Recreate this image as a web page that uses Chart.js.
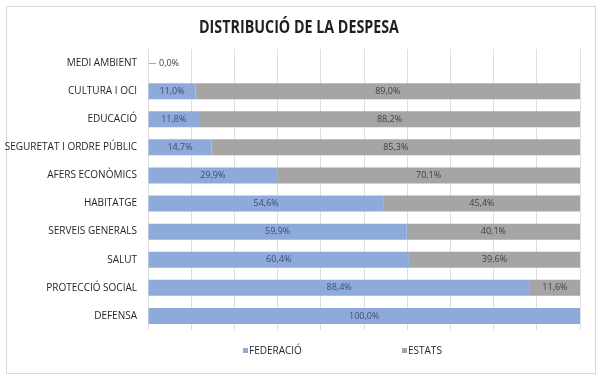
<!DOCTYPE html>
<html><head><meta charset="utf-8">
<script src="https://cdn.jsdelivr.net/npm/chart.js@4.4.0/dist/chart.umd.min.js"></script>
<style>html,body{margin:0;padding:0;background:#fff}#wrap{width:600px;height:383px;position:relative}canvas{display:block}</style>
</head><body><div id="wrap"><canvas id="c" width="600" height="383"></canvas></div>
<script>
const categories = ['MEDI AMBIENT','CULTURA I OCI','EDUCACIÓ','SEGURETAT I ORDRE PÚBLIC','AFERS ECONÒMICS','HABITATGE','SERVEIS GENERALS','SALUT','PROTECCIÓ SOCIAL','DEFENSA'];
const federacio = [0.0, 11.0, 11.8, 14.7, 29.9, 54.6, 59.9, 60.4, 88.4, 100.0];
const estats = [null, 89.0, 88.2, 85.3, 70.1, 45.4, 40.1, 39.6, 11.6, null];
const seriesNames = ['FEDERACIÓ', 'ESTATS'];
const chartTitle = 'DISTRIBUCIÓ DE LA DESPESA';

const FONT = '"Open Sans", "DejaVu Sans", sans-serif';
const colors = ['#8eaadb', '#a5a5a5'];
const labelColors = ['#3f4d6b', '#404040'];

function fmt(v) { return v.toFixed(1).replace('.', ',') + '%'; }

const framePlugin = {
  id: 'frame',
  beforeDraw(chart) {
    const ctx = chart.ctx;
    ctx.save();
    ctx.fillStyle = '#fff';
    ctx.fillRect(0, 0, chart.width, chart.height);
    ctx.strokeStyle = '#d9d9d9';
    ctx.lineWidth = 1;
    ctx.strokeRect(6.5, 6.5, 589, 367);
    ctx.restore();
  },
  afterDraw(chart) {
    const ctx = chart.ctx;
    ctx.save();
    // title (slightly condensed, like the original's narrow font)
    ctx.font = 'bold 17px ' + FONT;
    ctx.fillStyle = '#1f1f1f';
    ctx.textAlign = 'center';
    ctx.textBaseline = 'alphabetic';
    ctx.translate(299, 33);
    ctx.scale(0.84, 1);
    ctx.fillText(chartTitle, 0, 0);
    ctx.restore();
    ctx.save();
    // legend
    ctx.font = '10px ' + FONT;
    ctx.textAlign = 'left';
    ctx.textBaseline = 'middle';
    const lx = [243, 402];
    seriesNames.forEach((n, i) => {
      ctx.fillStyle = colors[i];
      ctx.fillRect(lx[i], 348, 5, 5);
      ctx.fillStyle = '#262626';
      ctx.fillText(n, lx[i] + 6, 351);
    });
    ctx.restore();
  }
};

const labelPlugin = {
  id: 'vlabels',
  afterDatasetsDraw(chart) {
    const ctx = chart.ctx;
    ctx.save();
    ctx.font = '9px ' + FONT;
    ctx.textBaseline = 'middle';
    chart.data.datasets.forEach((ds, i) => {
      const meta = chart.getDatasetMeta(i);
      meta.data.forEach((el, j) => {
        const v = ds.data[j];
        if (v === null || v === undefined) return;
        if (v === 0) {
          ctx.strokeStyle = '#a6a6a6';
          ctx.lineWidth = 1;
          ctx.beginPath();
          ctx.moveTo(el.base + 1, Math.round(el.y) + 0.5);
          ctx.lineTo(el.base + 8, Math.round(el.y) + 0.5);
          ctx.stroke();
          ctx.fillStyle = '#404040';
          ctx.textAlign = 'left';
          ctx.fillText(fmt(v), el.base + 11, el.y);
        } else {
          ctx.fillStyle = labelColors[i];
          ctx.textAlign = 'center';
          ctx.fillText(fmt(v), (el.x + el.base) / 2, el.y);
        }
      });
    });
    ctx.restore();
  }
};

new Chart(document.getElementById('c'), {
  type: 'bar',
  data: {
    labels: categories,
    datasets: [
      { label: seriesNames[0], data: federacio, backgroundColor: colors[0], borderWidth: 0 },
      { label: seriesNames[1], data: estats, backgroundColor: colors[1], borderWidth: 0 }
    ]
  },
  options: {
    indexAxis: 'y',
    responsive: false,
    animation: false,
    devicePixelRatio: 1,
    layout: { padding: { top: 49, right: 20, bottom: 53, left: 0 } },
    datasets: { bar: { categoryPercentage: 1, barPercentage: 0.57 } },
    plugins: { legend: { display: false }, title: { display: false }, tooltip: { enabled: false } },
    scales: {
      x: {
        stacked: true, min: 0, max: 100,
        ticks: { display: false, stepSize: 10 },
        grid: { color: '#dedede', drawTicks: false, lineWidth: 1 },
        border: { display: false }
      },
      y: {
        stacked: true,
        afterFit(s) { s.width = 148; },
        ticks: { color: '#262626', font: { family: FONT, size: 10 }, padding: 11, autoSkip: false },
        grid: { display: false, drawTicks: false },
        border: { display: false }
      }
    }
  },
  plugins: [framePlugin, labelPlugin]
});
</script>
</body></html>
